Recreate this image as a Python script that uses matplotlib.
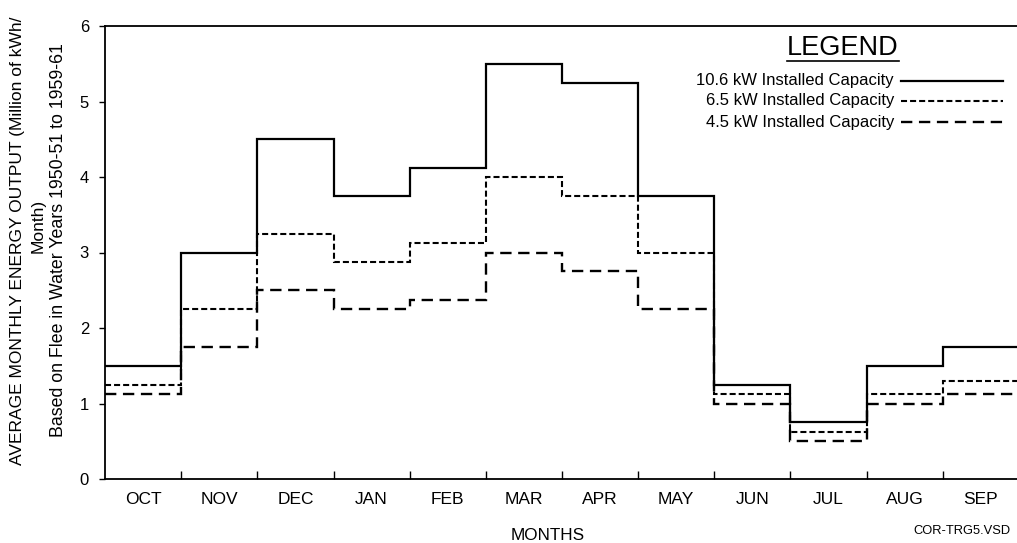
import numpy as np
import matplotlib
matplotlib.use("Agg")
import matplotlib.pyplot as plt
from matplotlib.lines import Line2D

plt.rcParams['font.family'] = ['Liberation Sans', 'DejaVu Sans']

months = ["OCT", "NOV", "DEC", "JAN", "FEB", "MAR", "APR", "MAY", "JUN", "JUL", "AUG", "SEP"]
cap_106 = [1.5, 3.0, 4.5, 3.75, 4.12, 5.5, 5.25, 3.75, 1.25, 0.75, 1.5, 1.75]
cap_65 = [1.25, 2.25, 3.25, 2.87, 3.12, 4.0, 3.75, 3.0, 1.12, 0.62, 1.12, 1.3]
cap_45 = [1.12, 1.75, 2.5, 2.25, 2.37, 3.0, 2.75, 2.25, 1.0, 0.5, 1.0, 1.12]
series_labels = ["10.6 kW Installed Capacity", "6.5 kW Installed Capacity", "4.5 kW Installed Capacity"]
yticks = [0, 1, 2, 3, 4, 5, 6]

W, H = 1017, 543
fig = plt.figure(figsize=(W / 100, H / 100), dpi=100)
ax = fig.add_axes([105 / W, 1 - 479 / H, (1019 - 105) / W, (479 - 26) / H])

edges = np.arange(len(months) + 1)
styles = [
    dict(color='black', lw=1.6, linestyle='-'),
    dict(color='black', lw=1.5, linestyle=(0, (2.9, 1.45))),
    dict(color='black', lw=1.7, linestyle=(0, (4.8, 2.8))),
]
for vals, st in zip([cap_106, cap_65, cap_45], styles):
    ax.stairs(vals, edges, baseline=None, **st)

ax.set_xlim(0, 12)
ax.set_ylim(0, 6)
ax.spines['right'].set_visible(False)
for s in ['left', 'bottom', 'top']:
    ax.spines[s].set_linewidth(1.3)

ax.set_yticks(yticks)
ax.set_yticklabels([str(v) for v in yticks], fontsize=12)
ax.tick_params(axis='y', direction='out', length=4.5, width=1, pad=7)

ax.set_xticks(edges[1:-1])
ax.set_xticklabels([])
ax.tick_params(axis='x', which='major', direction='in', length=6, width=1)
ax.set_xticks(edges[:-1] + 0.5, minor=True)
ax.set_xticklabels(months, minor=True, fontsize=12.5)
ax.tick_params(axis='x', which='minor', length=0, pad=9.5)

# Axis labels
fig.text(18 / W, 1 - 241 / H, "AVERAGE MONTHLY ENERGY OUTPUT (Million of kWh/",
         rotation=90, ha='center', va='center', fontsize=12.5)
fig.text(38 / W, 1 - 226 / H, "Month)",
         rotation=90, ha='center', va='center', fontsize=12.5)
fig.text(59 / W, 1 - 240 / H, "Based on Flee in Water Years 1950-51 to 1959-61",
         rotation=90, ha='center', va='center', fontsize=12.8)
fig.text(548 / W, 1 - 535 / H, "MONTHS", ha='center', va='center', fontsize=12.3)
fig.text(962 / W, 1 - 531 / H, "COR-TRG5.VSD", ha='center', va='center', fontsize=9.3)

# Legend
fig.text(843 / W, 1 - 48 / H, "LEGEND", ha='center', va='center', fontsize=19.5)
fig.add_artist(Line2D([787 / W, 899 / W], [1 - 61 / H, 1 - 61 / H], color='black', lw=1.2))
ys = [81, 101, 122]
for lab, st, y in zip(series_labels, styles, ys):
    fig.text(894 / W, 1 - y / H, lab, ha='right', va='center', fontsize=12)
    fig.add_artist(Line2D([901 / W, 1003 / W], [1 - y / H, 1 - y / H], **st))

fig.savefig("out.png", dpi=100)
